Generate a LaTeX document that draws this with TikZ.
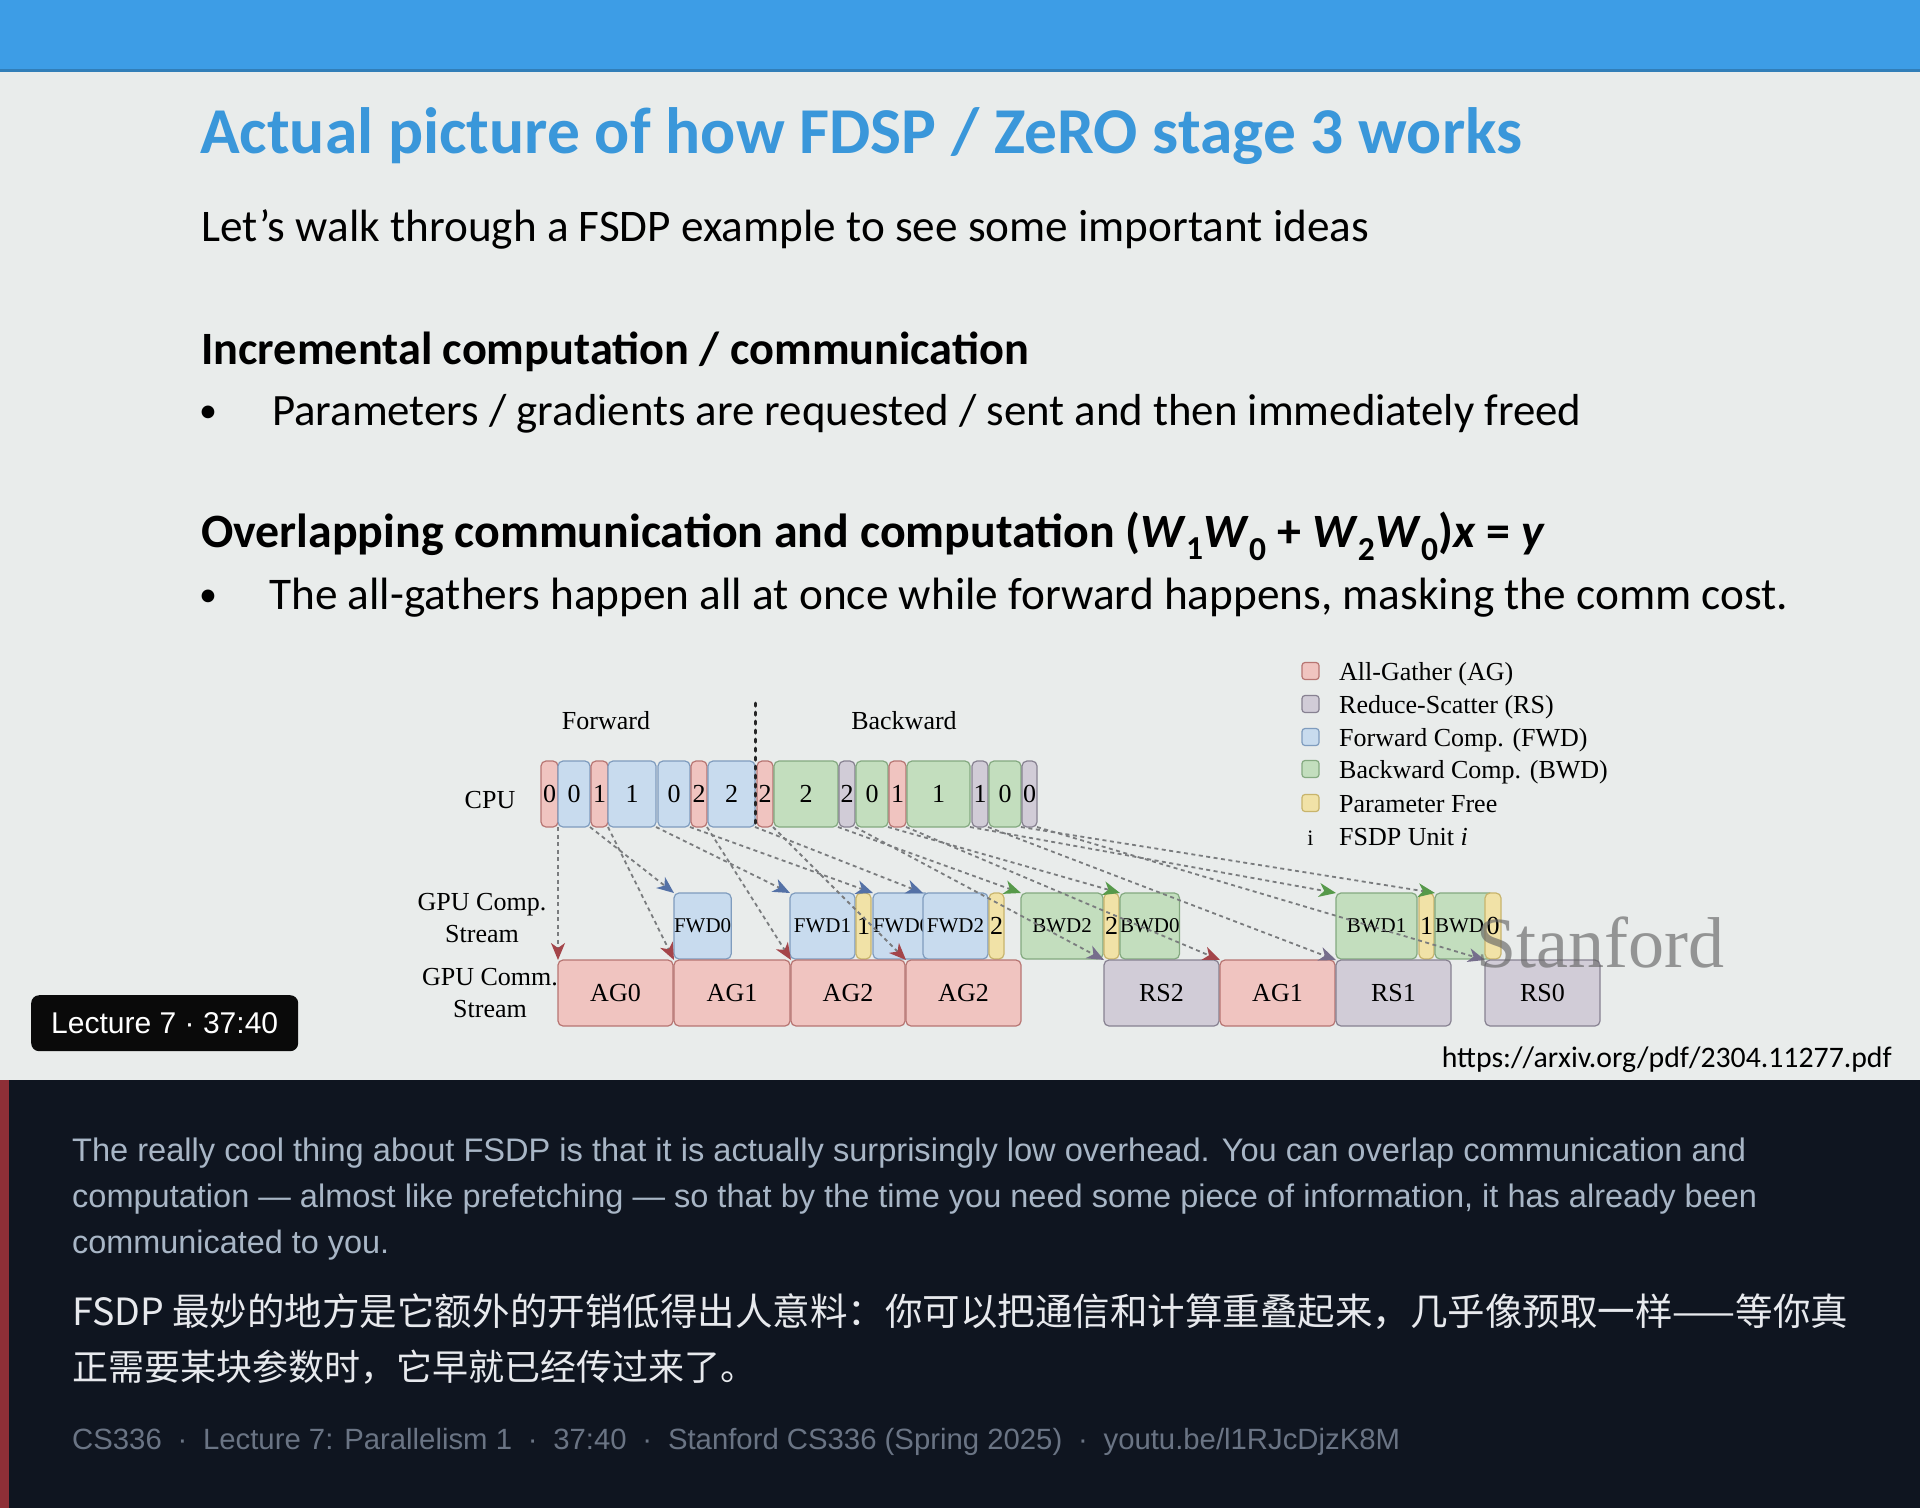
\documentclass[tikz,border=0pt]{standalone}
\usepackage{fontspec}
\usepackage{graphicx}
\setmainfont{Carlito}
\newfontfamily\diagfont{Liberation Serif}
\newfontfamily\arialfont{Liberation Sans}
\newfontfamily\cjkfont{Noto Sans CJK SC}
\usetikzlibrary{arrows.meta}
\definecolor{slidebg}{HTML}{E9ECEB}
\definecolor{topbar}{HTML}{3D9DE6}
\definecolor{panelbg}{HTML}{0F1520}
\definecolor{redstrip}{HTML}{8E2F37}
\definecolor{titleblue}{HTML}{3A97DA}
\definecolor{agfill}{HTML}{F0C4C0}
\definecolor{agdraw}{HTML}{B77572}
\definecolor{agtip}{HTML}{A4454A}
\definecolor{rsfill}{HTML}{D1CCD7}
\definecolor{rsdraw}{HTML}{878191}
\definecolor{rstip}{HTML}{766E8C}
\definecolor{fwdfill}{HTML}{C8DBEE}
\definecolor{fwddraw}{HTML}{7F9CBE}
\definecolor{fwdtip}{HTML}{5471A6}
\definecolor{bwdfill}{HTML}{C3DEBE}
\definecolor{bwddraw}{HTML}{84A980}
\definecolor{bwdtip}{HTML}{56994A}
\definecolor{pffill}{HTML}{F1E2A7}
\definecolor{pfdraw}{HTML}{C8B46C}
\definecolor{dashgrey}{HTML}{7A7C7E}
\definecolor{engtext}{HTML}{A8B6C6}
\definecolor{cjktext}{HTML}{E7E9ED}
\definecolor{foottext}{HTML}{6A7484}
\newcommand{\mkbox}[7]{\node[#2, minimum width={(#4-#3)*1pt}, minimum height={(#6-#5)*1pt}, anchor=north west] (#1) at (#3,#5) {#7};}
\newcommand{\conn}[3]{\draw[flow, -{Stealth[length=17pt,width=14pt,inset=5pt,color=#3]}] (#1.south east) -- (#2.north west);}
\newcommand{\legitem}[4]{\node[legsq, fill=#2, draw=#3] (sq#1) at (1310.5,#4) {};}
\tikzset{
  box/.style={draw, rounded corners=5pt, line width=1.2pt, inner sep=0pt, outer sep=0pt, font=\diagfont\fontsize{26}{30}\selectfont},
  ag/.style={box, fill=agfill, draw=agdraw},
  rs/.style={box, fill=rsfill, draw=rsdraw},
  fwd/.style={box, fill=fwdfill, draw=fwddraw},
  bwd/.style={box, fill=bwdfill, draw=bwddraw},
  pf/.style={box, fill=pffill, draw=pfdraw},
  small/.style={font=\diagfont\fontsize{21}{24}\selectfont},
  dtext/.style={font=\diagfont\fontsize{26}{30}\selectfont, inner sep=0pt},
  legsq/.style={draw, rounded corners=3pt, line width=1.2pt, minimum size=17pt, inner sep=0pt},
  flow/.style={draw=dashgrey, line width=1.8pt, dash pattern=on 4pt off 3.5pt},
  txt/.style={inner sep=0pt, anchor=base west},
}
\begin{document}
\begin{tikzpicture}[x=1pt,y=-1pt]
\useasboundingbox (0,0) rectangle (1920,1508);
% backgrounds
\fill[slidebg] (0,0) rectangle (1920,1080);
\fill[topbar] (0,0) rectangle (1920,71);
\fill[topbar!80!black] (0,69) rectangle (1920,72);
\fill[panelbg] (0,1080) rectangle (1920,1508);
\fill[redstrip] (0,1080) rectangle (9,1508);

% slide text
\node[txt] (title) at (200,153) {\resizebox{1322pt}{!}{\fontsize{66}{70}\selectfont\bfseries\color{titleblue}Actual picture of how FDSP / ZeRO stage 3 works}};
\node[txt] (sub) at (201,241) {\resizebox{1168pt}{!}{\fontsize{46}{50}\selectfont Let’s walk through a FSDP example to see some important ideas}};
\node[txt] (h1) at (201,364) {\resizebox{828pt}{!}{\fontsize{46}{50}\selectfont\bfseries Incremental computation / communication}};
\node[inner sep=0pt, anchor=base] (b1) at (208,422) {\fontsize{36}{40}\selectfont •};
\node[txt] (t1) at (272,425) {\resizebox{1309pt}{!}{\fontsize{46}{50}\selectfont Parameters / gradients are requested / sent and then immediately freed}};
\node[txt] (h2) at (201,547) {\resizebox{1344pt}{!}{\fontsize{46}{50}\selectfont\bfseries Overlapping communication and computation (\textit{W}\textsubscript{1}\textit{W}\textsubscript{0} + \textit{W}\textsubscript{2}\textit{W}\textsubscript{0})\textit{x} = \textit{y}}};
\node[inner sep=0pt, anchor=base] (b2) at (208,606) {\fontsize{36}{40}\selectfont •};
\node[txt] (t2) at (269,609) {\resizebox{1519pt}{!}{\fontsize{46}{50}\selectfont The all-gathers happen all at once while forward happens, masking the comm cost.}};

% diagram labels
\node[dtext, anchor=base] (fwdlab) at (606,729) {Forward};
\node[dtext, anchor=base] (bwdlab) at (904,729) {Backward};
\node[dtext, anchor=base] (cpulab) at (490,808) {CPU};
\node[dtext, anchor=base] (gc1) at (482,910) {GPU Comp.};
\node[dtext, anchor=base] (gc2) at (482,942) {Stream};
\node[dtext, anchor=base] (gm1) at (490,985) {GPU Comm.};
\node[dtext, anchor=base] (gm2) at (490,1017) {Stream};

% CPU row
\mkbox{c1}{ag}{541}{558}{761}{827}{0}
\mkbox{c2}{fwd}{558}{590}{761}{827}{0}
\mkbox{c3}{ag}{591}{608}{761}{827}{1}
\mkbox{c4}{fwd}{608}{656}{761}{827}{1}
\mkbox{c5}{fwd}{658}{690}{761}{827}{0}
\mkbox{c6}{ag}{691}{707}{761}{827}{2}
\mkbox{c7}{fwd}{708}{755}{761}{827}{2}
\mkbox{c8}{ag}{757}{773}{761}{827}{2}
\mkbox{c9}{bwd}{774}{838}{761}{827}{2}
\mkbox{c10}{rs}{839}{855}{761}{827}{2}
\mkbox{c11}{bwd}{856}{888}{761}{827}{0}
\mkbox{c12}{ag}{889}{906}{761}{827}{1}
\mkbox{c13}{bwd}{907}{970}{761}{827}{1}
\mkbox{c14}{rs}{972}{988}{761}{827}{1}
\mkbox{c15}{bwd}{989}{1021}{761}{827}{0}
\mkbox{c16}{rs}{1022}{1037}{761}{827}{0}

% divider
\coordinate (divtop) at (755,703);
\draw[line width=3pt, dash pattern=on 3pt off 6pt, line cap=round, black!85] (divtop) -- (c7.south east);

% GPU comp row
\mkbox{g1}{fwd,small}{674}{723}{893}{959}{FWD0}
\mkbox{g2}{fwd,small}{790}{855}{893}{959}{FWD1}
\mkbox{g3}{pf}{856}{871}{893}{959}{1}
\mkbox{g4}{fwd,small}{873}{922}{893}{959}{FWD0}
\mkbox{g5}{fwd,small}{923}{988}{893}{959}{FWD2}
\mkbox{g6}{pf}{989}{1004}{893}{959}{2}
\mkbox{g7}{bwd,small}{1021}{1103}{893}{959}{BWD2}
\mkbox{g8}{pf}{1104}{1119}{893}{959}{2}
\mkbox{g9}{bwd,small}{1120}{1170}{893}{959}{BWD0}
\mkbox{g10}{bwd,small}{1336}{1417}{893}{959}{BWD1}
\mkbox{g11}{pf}{1419}{1434}{893}{959}{1}
\mkbox{g12}{bwd,small}{1435}{1484}{893}{959}{BWD0}
\mkbox{g13}{pf}{1485}{1501}{893}{959}{0}

% GPU comm row
\mkbox{m1}{ag}{558}{673}{960}{1026}{AG0}
\mkbox{m2}{ag}{674}{790}{960}{1026}{AG1}
\mkbox{m3}{ag}{791}{905}{960}{1026}{AG2}
\mkbox{m4}{ag}{906}{1021}{960}{1026}{AG2}
\mkbox{m5}{rs}{1104}{1219}{960}{1026}{RS2}
\mkbox{m6}{ag}{1220}{1335}{960}{1026}{AG1}
\mkbox{m7}{rs}{1336}{1451}{960}{1026}{RS1}
\mkbox{m8}{rs}{1485}{1600}{960}{1026}{RS0}

% connectors
\conn{c1}{m1}{agtip}
\conn{c2}{g1}{fwdtip}
\conn{c3}{m2}{agtip}
\conn{c4}{g2}{fwdtip}
\conn{c5}{g4}{fwdtip}
\conn{c6}{m3}{agtip}
\conn{c7}{g5}{fwdtip}
\conn{c8}{m4}{agtip}
\conn{c9}{g7}{bwdtip}
\conn{c10}{m5}{rstip}
\conn{c11}{g9}{bwdtip}
\conn{c12}{m6}{agtip}
\conn{c13}{g10}{bwdtip}
\conn{c14}{m7}{rstip}
\conn{c15}{g12}{bwdtip}
\conn{c16}{m8}{rstip}

% legend
\legitem{1}{agfill}{agdraw}{671}
\legitem{2}{rsfill}{rsdraw}{704}
\legitem{3}{fwdfill}{fwddraw}{737}
\legitem{4}{bwdfill}{bwddraw}{769}
\legitem{5}{pffill}{pfdraw}{803}
\node[dtext, anchor=base] (li) at (1310.5,845) {\fontsize{22}{26}\selectfont i};
\node[dtext, anchor=base west] (lt1) at (1339,680) {All-Gather (AG)};
\node[dtext, anchor=base west] (lt2) at (1339,713) {Reduce-Scatter (RS)};
\node[dtext, anchor=base west] (lt3) at (1339,746) {Forward Comp. (FWD)};
\node[dtext, anchor=base west] (lt4) at (1339,778) {Backward Comp. (BWD)};
\node[dtext, anchor=base west] (lt5) at (1339,812) {Parameter Free};
\node[dtext, anchor=base west] (lt6) at (1339,845) {FSDP Unit \textit{i}};

% watermark
\node[inner sep=0pt, anchor=base west, text=black!60, opacity=0.65] (stanford) at (1476,967) {\diagfont\fontsize{72}{76}\selectfont Stanford};

% url
\node[inner sep=0pt, anchor=base east] (url) at (1892,1067) {\resizebox{450pt}{!}{\fontsize{28}{32}\selectfont https://arxiv.org/pdf/2304.11277.pdf}};

% badge
\node[fill=black!96, rounded corners=8pt, minimum width=267pt, minimum height=56pt, inner sep=0pt, anchor=north west] (badge) at (31,995) {};
\node[inner sep=0pt, text=white] (badgetext) at (badge.center) {\resizebox{227pt}{!}{\arialfont\fontsize{28}{32}\selectfont Lecture 7 · 37:40}};

% caption panel
\node[txt] (e1) at (72,1161) {\resizebox{1674pt}{!}{\arialfont\fontsize{28}{32}\selectfont\color{engtext}The really cool thing about FSDP is that it is actually surprisingly low overhead. You can overlap communication and}};
\node[txt] (e2) at (72,1207) {\resizebox{1685pt}{!}{\arialfont\fontsize{28}{32}\selectfont\color{engtext}computation — almost like prefetching — so that by the time you need some piece of information, it has already been}};
\node[txt] (e3) at (72,1253) {\resizebox{317pt}{!}{\arialfont\fontsize{28}{32}\selectfont\color{engtext}communicated to you.}};
\node[txt] (z1) at (72,1325) {\resizebox{1776pt}{!}{\cjkfont\fontsize{36}{40}\selectfont\color{cjktext}FSDP 最妙的地方是它额外的开销低得出人意料：你可以把通信和计算重叠起来，几乎像预取一样——等你真}};
\node[txt] (z2) at (72,1380) {\cjkfont\fontsize{36}{40}\selectfont\color{cjktext}正需要某块参数时，它早就已经传过来了。};
\node[txt] (foot) at (72,1449) {\resizebox{1328pt}{!}{\arialfont\fontsize{26}{30}\selectfont\color{foottext}CS336\hspace{14pt}·\hspace{14pt}Lecture 7: Parallelism 1\hspace{14pt}·\hspace{14pt}37:40\hspace{14pt}·\hspace{14pt}Stanford CS336 (Spring 2025)\hspace{14pt}·\hspace{14pt}youtu.be/l1RJcDjzK8M}};
\end{tikzpicture}
\end{document}
